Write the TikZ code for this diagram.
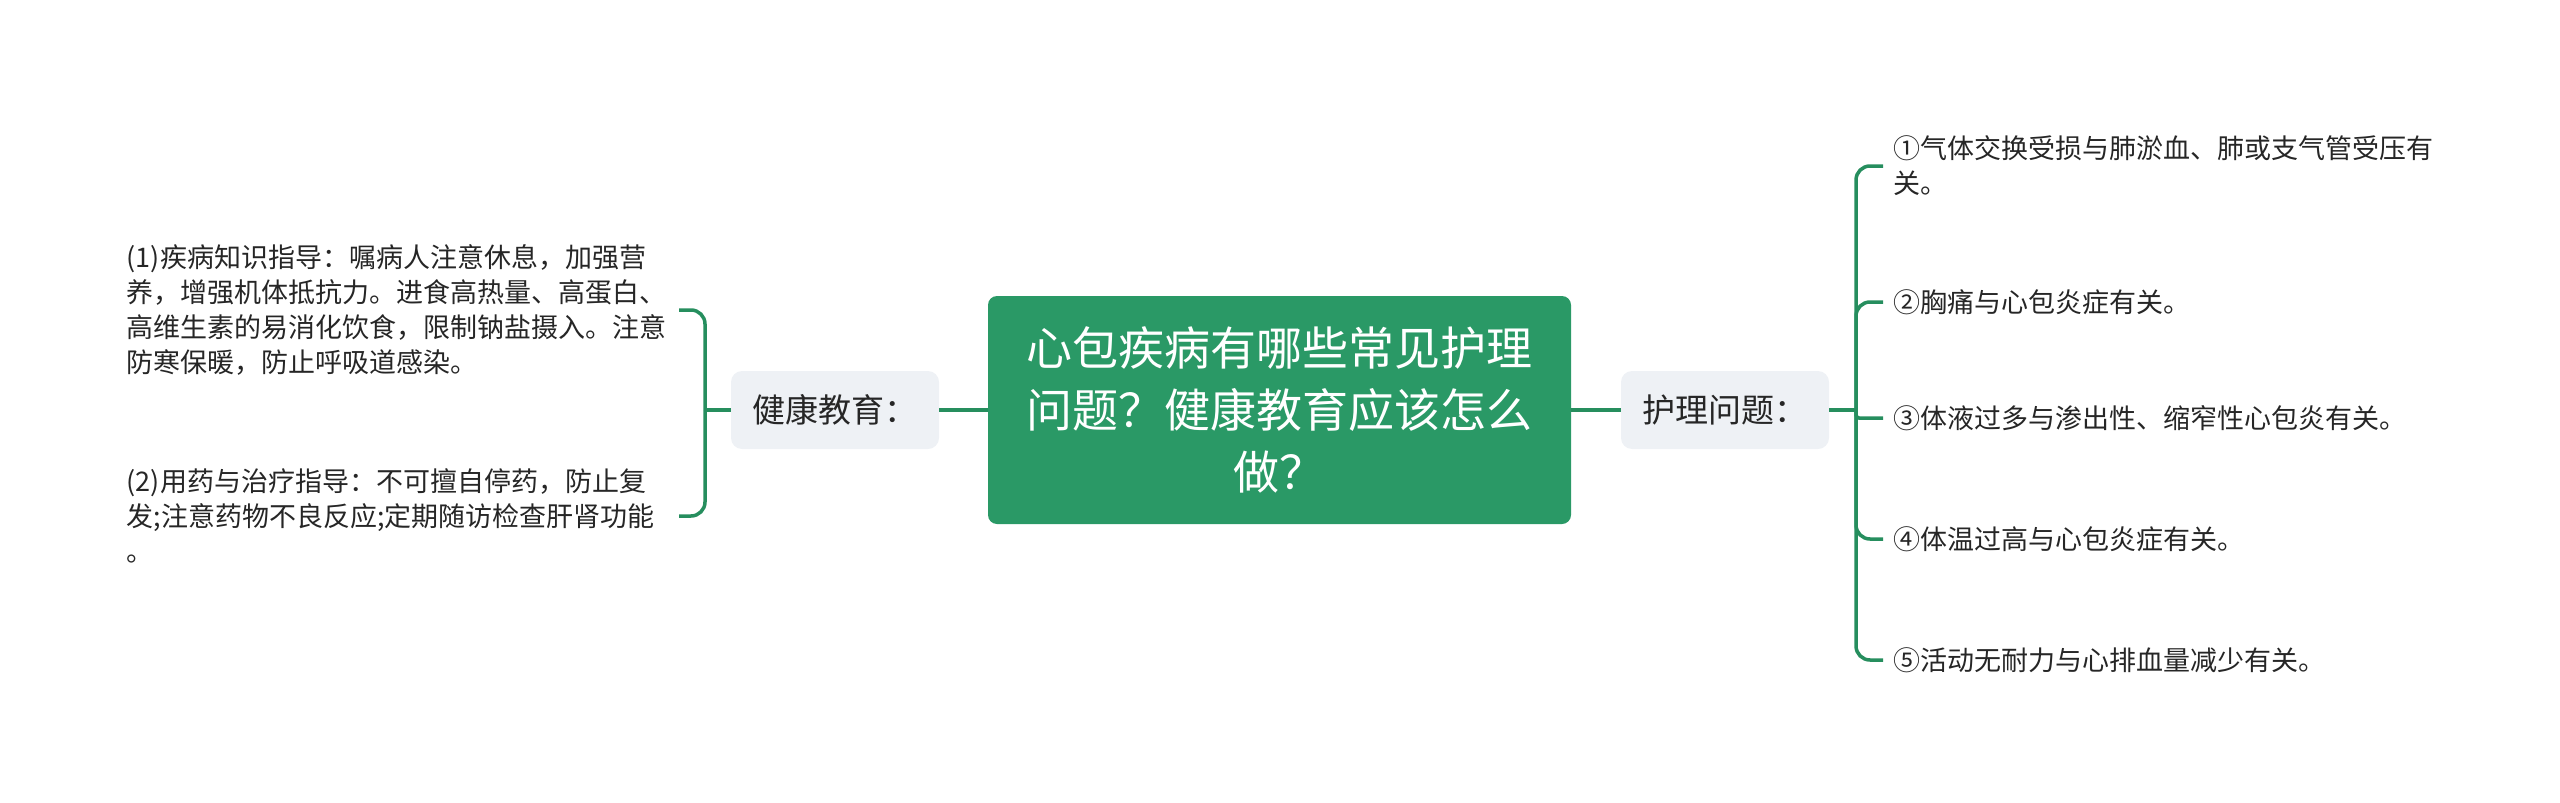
\documentclass[tikz,border=0pt]{standalone}
\usepackage{fontspec}
\newfontfamily\cjk{Noto Sans CJK SC}
\usetikzlibrary{positioning}

\definecolor{mapgreen}{RGB}{42,153,102}
\definecolor{linegreen}{RGB}{38,142,94}
\definecolor{topicgray}{RGB}{238,241,245}
\definecolor{inkgray}{RGB}{38,38,38}

\begin{document}
\begin{tikzpicture}[x=1pt,y=-1pt,
  root/.style={fill=mapgreen, rounded corners=9pt, text=white, inner sep=0pt,
    minimum width=583pt, minimum height=228pt, align=center,
    font=\cjk\fontsize{46}{62}\selectfont},
  topic/.style={fill=topicgray, rounded corners=11pt, text=inkgray, inner sep=0pt,
    minimum width=208pt, minimum height=78pt,
    font=\cjk\fontsize{33}{38}\selectfont},
  leaf/.style={text=inkgray, inner xsep=10pt, inner ysep=0pt, align=left,
    font=\cjk\fontsize{27}{35}\selectfont},
  branch/.style={draw=linegreen, line width=3.5pt, rounded corners=14pt}]

  \useasboundingbox (0,0) rectangle (2560,803);

  \def\midy{410}
  \def\trunkleft{705}; % left trunk
  \def\trunkright{1856}; % right trunk

  \node[root] (question) at (1279.5,\midy)
    {心包疾病有哪些常见护理\\问题？健康教育应该怎么\\做？};

  \node[topic] (edu) at (835,\midy) {健康教育：};
  \node[topic] (care) at (1725,\midy) {护理问题：};

  \draw[branch] (edu) -- (question);
  \draw[branch] (question) -- (care);

  % left side
  \coordinate (eduhub) at (\trunkleft,\midy);
  \node[leaf, text width=542pt, anchor=east] (guide1) at (679,310)
    {(1)疾病知识指导：嘱病人注意休息，加强营\\
     养，增强机体抵抗力。进食高热量、高蛋白、\\
     高维生素的易消化饮食，限制钠盐摄入。注意\\
     防寒保暖，防止呼吸道感染。};
  \node[leaf, text width=542pt, anchor=east] (guide2) at (679,516)
    {(2)用药与治疗指导：不可擅自停药，防止复\\
     发;注意药物不良反应;定期随访检查肝肾功能\\
     。};

  \draw[branch] (edu.west) -- (eduhub);
  \draw[branch] (eduhub) |- (guide1.east);
  \draw[branch] (eduhub) |- (guide2.east);

  % right side
  \coordinate (carehub) at (\trunkright,\midy);
  \node[leaf, text width=560pt, anchor=west] (prob1) at (1883,166)
    {①气体交换受损与肺淤血、肺或支气管受压有\\关。};
  \node[leaf, text width=560pt, anchor=west] (prob2) at (1883,302)
    {②胸痛与心包炎症有关。};
  \node[leaf, text width=560pt, anchor=west] (prob3) at (1883,418)
    {③体液过多与渗出性、缩窄性心包炎有关。};
  \node[leaf, text width=560pt, anchor=west] (prob4) at (1883,539)
    {④体温过高与心包炎症有关。};
  \node[leaf, text width=560pt, anchor=west] (prob5) at (1883,660)
    {⑤活动无耐力与心排血量减少有关。};

  \draw[branch] (care.east) -- (carehub);
  \draw[branch] (carehub) |- (prob1.west);
  \draw[branch] (carehub) |- (prob2.west);
  \draw[branch, rounded corners=3pt] (carehub) |- (prob3.west);
  \draw[branch] (carehub) |- (prob4.west);
  \draw[branch] (carehub) |- (prob5.west);

\end{tikzpicture}
\end{document}
